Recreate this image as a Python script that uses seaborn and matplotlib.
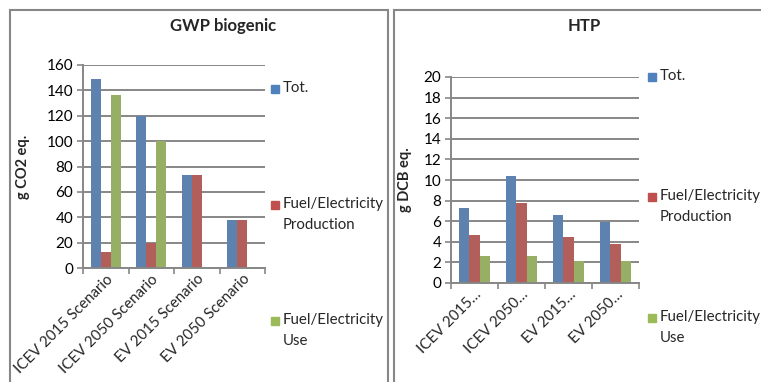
import numpy as np
import pandas as pd
import matplotlib.pyplot as plt
import seaborn as sns
from matplotlib.patches import Rectangle

# data
scenarios_long = ["ICEV 2015 Scenario", "ICEV 2050 Scenario", "EV 2015 Scenario", "EV 2050 Scenario"]
scenarios_short = ["ICEV 2015…", "ICEV 2050…", "EV 2015…", "EV 2050…"]
series = ["Tot.", "Fuel/Electricity\nProduction", "Fuel/Electricity\nUse"]

gwp_tot = [149, 120, 73, 38]
gwp_prod = [13, 20, 73, 38]
gwp_use = [136, 100, 0, 0]

htp_tot = [7.3, 10.4, 6.6, 5.9]
htp_prod = [4.7, 7.8, 4.5, 3.8]
htp_use = [2.6, 2.6, 2.1, 2.1]

colors = ["#4F81BD", "#C0504D", "#9BBB59"]
grid_c = "#878787"

sns.set_theme(style="white")
plt.rcParams['font.family'] = ['Lato', 'DejaVu Sans']

W, H = 761, 382
fig = plt.figure(figsize=(W / 100, H / 100), dpi=100)


def px_axes(l, t, r, b):
    return fig.add_axes([l / W, 1 - b / H, (r - l) / W, (b - t) / H])


def make_df(tot, prod, use, cats):
    rows = []
    for s, vals in zip(series, [tot, prod, use]):
        for c, v in zip(cats, vals):
            rows.append({"cat": c, "series": s, "val": v})
    return pd.DataFrame(rows)


def draw(ax, df, cats, ymax, ystep, ylabel, ylab_x, title, title_x):
    sns.barplot(data=df, x="cat", y="val", hue="series", order=cats,
                hue_order=series, palette=colors, width=0.66, ax=ax,
                edgecolor="none", legend=False)
    ax.set_ylim(0, ymax)
    ax.set_xlim(-0.5, len(cats) - 0.5)
    ax.set_yticks(np.arange(0, ymax + 0.01, ystep))
    ax.yaxis.grid(True, color=grid_c, linewidth=1.4)
    ax.set_axisbelow(True)
    for s in ["top", "right"]:
        ax.spines[s].set_visible(False)
    for s in ["left", "bottom"]:
        ax.spines[s].set_color(grid_c)
        ax.spines[s].set_linewidth(1.4)
    ax.tick_params(axis="y", left=True, length=4, color=grid_c, width=1.2,
                   labelsize=11, pad=3, labelcolor="black")
    ax.set_xticks(np.arange(-0.5, len(cats)), minor=True)
    ax.tick_params(axis="x", which="minor", bottom=True, length=4, color=grid_c, width=1.2)
    ax.tick_params(axis="x", which="major", bottom=False, length=0, labelsize=10.8, pad=3)
    ax.set_xticklabels(cats, rotation=45, ha="right", rotation_mode="anchor")
    ax.set_xlabel("")
    ax.set_ylabel(ylabel, fontsize=10.5, fontweight="bold")
    bb = ax.get_position()
    ax.yaxis.set_label_coords((ylab_x / W - bb.x0) / bb.width, 0.5)
    fig.text(title_x / W, 1 - 26 / H, title, ha="center", va="center",
             fontsize=12, fontweight="bold")


df1 = make_df(gwp_tot, gwp_prod, gwp_use, scenarios_long)
df2 = make_df(htp_tot, htp_prod, htp_use, scenarios_short)

ax1 = px_axes(83, 65, 265, 268)
draw(ax1, df1, scenarios_long, 160, 20, "g CO2 eq.", 30, "GWP biogenic", 223)
ax2 = px_axes(451, 77, 639, 283)
draw(ax2, df2, scenarios_short, 20, 2, "g DCB eq.", 412, "HTP", 584)


# legends, placed like the Excel ones
def legend(x_box, x_text, ys):
    for c, s, y in zip(colors, series, ys):
        fig.add_artist(Rectangle((x_box / W, 1 - (y + 4) / H), 8 / W, 8 / H,
                                 transform=fig.transFigure, color=c))
        fig.text(x_text / W, 1 - (y - 8) / H, s, ha="left", va="top",
                 fontsize=10.8, linespacing=1.6)


legend(271, 283, [89, 205, 321])
legend(648, 660, [77, 197, 318])

# panel borders
fig.add_artist(Rectangle((10 / W, -0.05), 378 / W, 1 - 10 / H + 0.05,
                         transform=fig.transFigure, fill=False,
                         edgecolor=grid_c, linewidth=1.5))
fig.add_artist(Rectangle((394 / W, -0.05), 400 / W, 1 - 10 / H + 0.05,
                         transform=fig.transFigure, fill=False,
                         edgecolor=grid_c, linewidth=1.5))

fig.savefig("out.png", dpi=100)
